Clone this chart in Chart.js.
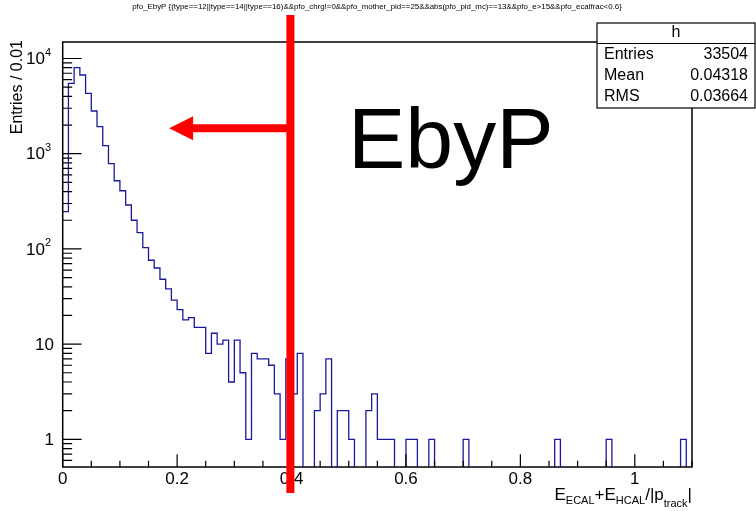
<!DOCTYPE html>
<html>
<head>
<meta charset="utf-8">
<script src="https://cdn.jsdelivr.net/npm/chart.js@4/dist/chart.umd.min.js"></script>
<style>
  html, body { margin: 0; padding: 0; background: #fff; }
  #wrap { width: 756px; height: 511px; }
</style>
</head>
<body>
<div id="wrap"><canvas id="c" width="756" height="511"></canvas></div>
<script>
// E/p histogram, bin width 0.01 on [0, 1.1]
const binWidth = 0.01;
const xMin = 0;
const xMax = 1.1;
const counts = [
  246, 5480, 8000, 6710, 4310, 2810, 1920, 1213, 785, 520,
  408, 289, 200, 148, 103, 76, 63, 48, 38, 29,
  23, 18, 19, 15, 15, 8, 13, 10, 11, 4,
  11, 5, 1, 8, 7, 7, 6, 3, 1, 7,
  3, 8, 0, 0, 2, 3, 7, 0, 2, 2,
  1, 0, 0, 2, 3, 1, 1, 1, 0, 0,
  1, 1, 0, 0, 1, 0, 0, 0, 0, 0,
  1, 0, 0, 0, 0, 0, 0, 0, 0, 0,
  0, 0, 0, 0, 0, 0, 1, 0, 0, 0,
  0, 0, 0, 0, 0, 1, 0, 0, 0, 0,
  0, 0, 0, 0, 0, 0, 0, 0, 1, 0
];

const yMin = 0.512;
const yMax = 14900;
const yTickExponents = [0, 1, 2, 3, 4];
const xTickLabels = ['0', '0.2', '0.4', '0.6', '0.8', '1'];
const xTickValues = [0, 0.2, 0.4, 0.6, 0.8, 1.0];
const xMinorStep = 0.05;

const histTitle = 'pfo_EbyP {(type==12||type==14||type==16)&&pfo_chrg!=0&&pfo_mother_pid==25&&abs(pfo_pid_mc)==13&&pfo_e>15&&pfo_ecalfrac<0.6}';
const yTitle = 'Entries / 0.01';
const statNames = ['Entries', 'Mean', 'RMS'];
const statValues = ['33504', '0.04318', '0.03664'];

// cut marker
const cutX = 0.398;
const arrowY = 1850;
const arrowTipX = 0.186;
const cutLabel = 'EbyP';

// empty bins sit below the log axis floor and get clipped, like ROOT does
const floorValue = yMin / 10;

// histogram outline: left bin edges, value carried to the right
const points = counts.map((n, i) => ({ x: xMin + i * binWidth, y: n > 0 ? n : floorValue }));
points.push({ x: xMax, y: floorValue });

const FONT = '"Liberation Sans", Arial, Helvetica, sans-serif';

// draws a string of [text, size, dy] pieces starting at x
function drawPieces(ctx, pieces, x, y) {
  for (const [t, size, dy] of pieces) {
    ctx.font = `${size}px ${FONT}`;
    ctx.fillText(t, x, y + dy);
    x += ctx.measureText(t).width;
  }
}
function piecesWidth(ctx, pieces) {
  let w = 0;
  for (const [t, size] of pieces) {
    ctx.font = `${size}px ${FONT}`;
    w += ctx.measureText(t).width;
  }
  return w;
}

const rootFrame = {
  id: 'rootFrame',
  afterDatasetsDraw(chart) {
    const { ctx, chartArea: a, scales: { x, y } } = chart;
    ctx.save();
    ctx.fillStyle = '#000';
    ctx.strokeStyle = '#000';

    // frame
    ctx.lineWidth = 1.5;
    ctx.strokeRect(a.left, a.top, a.right - a.left, a.bottom - a.top);

    // y ticks (major at decades, minor at 2..9)
    const w = a.right - a.left;
    const h = a.bottom - a.top;
    ctx.lineWidth = 1.2;
    ctx.beginPath();
    for (let e = -1; e <= 4; e++) {
      for (let m = 1; m <= 9; m++) {
        const v = m * Math.pow(10, e);
        if (v < yMin || v > yMax) continue;
        const py = y.getPixelForValue(v);
        const len = m === 1 ? w * 0.03 : w * 0.015;
        ctx.moveTo(a.left, py);
        ctx.lineTo(a.left + len, py);
      }
    }
    // x ticks
    for (let v = xMin; v <= xMax + 1e-9; v += xMinorStep) {
      const px = x.getPixelForValue(v);
      const major = Math.abs(v / 0.2 - Math.round(v / 0.2)) < 1e-6;
      const len = major ? h * 0.03 : h * 0.015;
      ctx.moveTo(px, a.bottom);
      ctx.lineTo(px, a.bottom - len);
    }
    ctx.stroke();

    // y tick labels
    ctx.textBaseline = 'middle';
    ctx.textAlign = 'left';
    for (const e of yTickExponents) {
      const py = y.getPixelForValue(Math.pow(10, e));
      let pieces;
      if (e < 2) {
        pieces = [[String(Math.pow(10, e)), 17, 0]];
        drawPieces(ctx, pieces, 54 - piecesWidth(ctx, pieces), py + 1);
      } else {
        pieces = [['10', 17, 0], [String(e), 11, -7]];
        drawPieces(ctx, pieces, 51 - piecesWidth(ctx, pieces), py + 1);
      }
    }

    // x tick labels
    ctx.textAlign = 'center';
    ctx.textBaseline = 'top';
    ctx.font = `17px ${FONT}`;
    xTickLabels.forEach((t, i) => {
      ctx.fillText(t, x.getPixelForValue(xTickValues[i]), a.bottom + 4);
    });

    // x title with subscripts, right aligned to frame
    ctx.textAlign = 'left';
    ctx.textBaseline = 'alphabetic';
    const xt = [['E', 17, 0], ['ECAL', 11, 4], ['+E', 17, 0], ['HCAL', 11, 4],
                ['/|p', 17, 0], ['track', 11, 7], ['|', 17, 0]];
    drawPieces(ctx, xt, a.right - piecesWidth(ctx, xt), 500);

    // y title
    ctx.save();
    ctx.translate(22, a.top - 2);
    ctx.rotate(-Math.PI / 2);
    ctx.textAlign = 'right';
    ctx.textBaseline = 'alphabetic';
    ctx.font = `16px ${FONT}`;
    ctx.fillText(yTitle, 0, 0);
    ctx.restore();

    // histogram title
    ctx.font = `7.9px ${FONT}`;
    ctx.textAlign = 'center';
    ctx.textBaseline = 'middle';
    ctx.fillText(histTitle, 377, 7);

    // stats box
    const bx = 597, by = 23, bw = 158, bh = 85;
    ctx.fillStyle = '#fff';
    ctx.fillRect(bx, by, bw, bh);
    ctx.lineWidth = 1.2;
    ctx.strokeRect(bx, by, bw, bh);
    ctx.beginPath();
    ctx.moveTo(bx, by + 20.5);
    ctx.lineTo(bx + bw, by + 20.5);
    ctx.stroke();
    ctx.fillStyle = '#000';
    ctx.font = `16px ${FONT}`;
    ctx.textAlign = 'center';
    ctx.fillText('h', bx + bw / 2, by + 10);
    statNames.forEach((n, i) => {
      const ry = by + 32 + i * 21;
      ctx.textAlign = 'left';
      ctx.fillText(n, bx + 7, ry);
      ctx.textAlign = 'right';
      ctx.fillText(statValues[i], bx + bw - 7, ry);
    });

    // cut line and arrow
    const cx = x.getPixelForValue(cutX);
    const ay = y.getPixelForValue(arrowY);
    const tip = x.getPixelForValue(arrowTipX);
    ctx.fillStyle = '#ff0000';
    ctx.fillRect(cx - 4, 15, 8, 478);
    ctx.fillRect(tip + 22, ay - 4, cx - tip - 22, 8);
    ctx.beginPath();
    ctx.moveTo(tip, ay);
    ctx.lineTo(tip + 24, ay - 12);
    ctx.lineTo(tip + 24, ay + 12);
    ctx.closePath();
    ctx.fill();

    // cut label
    ctx.fillStyle = '#000';
    ctx.font = `86px ${FONT}`;
    ctx.textAlign = 'left';
    ctx.textBaseline = 'alphabetic';
    ctx.fillText(cutLabel, 348, 168);

    ctx.restore();
  }
};

new Chart(document.getElementById('c'), {
  type: 'line',
  data: {
    datasets: [{
      data: points,
      stepped: 'before',
      borderColor: '#1a1a9e',
      borderWidth: 1.3,
      pointRadius: 0,
      fill: false,
      clip: 0
    }]
  },
  options: {
    responsive: false,
    animation: false,
    layout: { padding: { left: 62.7, right: 64, top: 42, bottom: 44 } },
    scales: {
      x: { type: 'linear', min: xMin, max: xMax, display: false },
      y: { type: 'logarithmic', min: yMin, max: yMax, display: false }
    },
    plugins: { legend: { display: false }, tooltip: { enabled: false } }
  },
  plugins: [rootFrame]
});
</script>
</body>
</html>
